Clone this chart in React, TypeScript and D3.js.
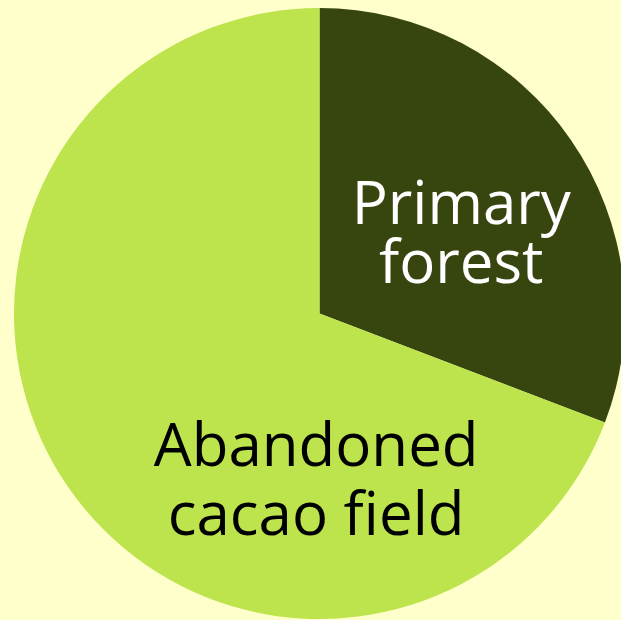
import { useEffect, useRef } from 'react';
import * as d3 from 'd3';

const categories = ['Primary forest', 'Abandoned cacao field'];
const shares = [30.8, 69.2];
const labelLines = [['Primary', 'forest'], ['Abandoned', 'cacao field']];

const colors = ['#37450f', '#bde34d'];
const textColors = ['#ffffff', '#000000'];
// first-baseline position in units of radius from the pie centre, and line spacing in px
const labelOffsets = [[0.464, -0.293], [-0.011, 0.499]];
const lineHeights = [59, 69];

export default function App() {
  const ref = useRef<SVGSVGElement>(null);

  useEffect(() => {
    document.body.style.margin = '0';
    const width = 621;
    const height = 620;
    const svg = d3.select(ref.current);
    svg.selectAll('*').remove();
    svg.attr('width', width).attr('height', height);

    svg.append('rect').attr('width', width).attr('height', height).attr('fill', '#ffffcc');

    const cx = 319.5;
    const cy = 313.5;
    const r = 305.5;

    const pie = d3.pie<number>().sort(null).value((d) => d);
    const arc = d3.arc<d3.PieArcDatum<number>>().innerRadius(0).outerRadius(r);

    const g = svg.append('g').attr('transform', `translate(${cx},${cy})`);
    g.selectAll('path')
      .data(pie(shares))
      .join('path')
      .attr('d', arc)
      .attr('fill', (_, i) => colors[i]);

    const fontSize = 60;
    categories.forEach((_, i) => {
      const [ox, oy] = labelOffsets[i];
      const t = g.append('text')
        .attr('text-anchor', 'middle')
        .attr('fill', textColors[i])
        .style('font-family', '"Open Sans", "Noto Sans", sans-serif')
        .style('font-size', `${fontSize}px`);
      labelLines[i].forEach((line, j) => {
        t.append('tspan')
          .attr('x', ox * r)
          .attr('y', oy * r + j * lineHeights[i])
          .text(line);
      });
    });
  }, []);

  return (
    <div style={{ position: 'absolute', left: 0, top: 0 }}>
      <svg ref={ref}></svg>
    </div>
  );
}
